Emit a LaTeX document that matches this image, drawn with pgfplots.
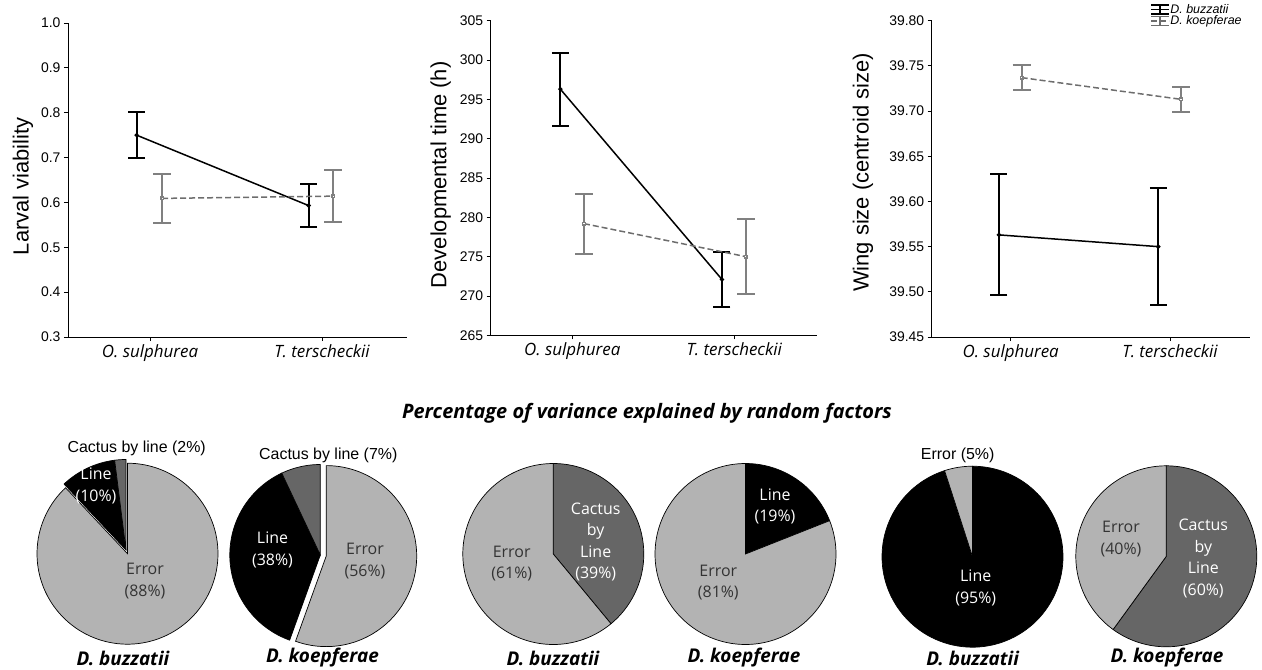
\documentclass[border=0pt]{standalone}
\usepackage{pgfplots}
\pgfplotsset{compat=1.18}
\usepgfplotslibrary{polar}
\usepackage{fontspec}
\setmainfont{Liberation Sans}
\newfontfamily\myriad{Open Sans}

\definecolor{cerr}{HTML}{B3B3B3}
\definecolor{ccbl}{HTML}{666666}
\definecolor{kgray}{HTML}{808080}
\definecolor{ktext}{HTML}{333333}

\pgfplotsset{
  lineplot/.style={
    scale only axis, clip=false,
    axis lines*=left, axis line style={-, line width=1bp},
    tick align=outside, major tick length=4bp,
    tick style={black, line width=0.8bp},
    xtick={1,2}, xticklabels={O. sulphurea, T. terscheckii},
    xticklabel style={font=\myriad\itshape\fontsize{17}{17}\selectfont},
    yticklabel style={font=\fontsize{14}{14}\selectfont},
    /pgf/number format/assume math mode=true,
  },
  buzz/.style={black, line width=1.5bp, mark=*, mark size=1.4bp,
    error bars/.cd, y dir=both, y explicit,
    error bar style={solid, line width=2bp, black},
    error mark options={solid, rotate=90, mark size=8.5bp, line width=2bp, black}},
  koep/.style={kgray!85!black, line width=1.5bp, dash pattern=on 6bp off 3bp,
    mark=square*, mark size=1.3bp, mark options={solid, fill=white, draw=kgray},
    error bars/.cd, y dir=both, y explicit,
    error bar style={solid, line width=2bp, kgray},
    error mark options={solid, rotate=90, mark size=9bp, line width=2bp, kgray}},
  pie/.style={hide axis, scale only axis, width=181bp, height=181bp,
    xmin=0, xmax=360, ymin=0, ymax=1, anchor=center, clip=false, samples=120},
}

% one pie slice, from cumulative percentage #1 to #2, clockwise from 12 o'clock
\newcommand\slice[3]{%
  \pgfmathsetmacro\sa{90-3.6*(#2)}%
  \pgfmathsetmacro\sb{90-3.6*(#1)}%
  \edef\doslice{\noexpand\addplot[fill=#3, draw=black, line width=0.7bp, domain=\sa:\sb]}%
  \doslice {1} -- (axis cs:0,0) -- cycle;}

\tikzset{
  plab/.style={font=\myriad\fontsize{16}{21.5}\selectfont, align=center, inner sep=0pt},
  alab/.style={font=\fontsize{16}{16}\selectfont, inner sep=0pt},
  slab/.style={font=\myriad\bfseries\itshape\fontsize{19}{19}\selectfont, inner sep=0pt},
}

\begin{document}
\begin{tikzpicture}
\path[use as bounding box] (0,0) rectangle (1262bp,-670bp);

% ---------- larval viability
\begin{axis}[lineplot, at={(68bp,-337bp)}, anchor=south west,
  width=339bp, height=314bp,
  xmin=0.523, xmax=2.494, ymin=0.3, ymax=1.0,
  ytick={0.3,0.4,0.5,0.6,0.7,0.8,0.9,1.0},
  yticklabel style={/pgf/number format/.cd, fixed, fixed zerofill, precision=1},
  ylabel={Larval viability},
  every axis y label/.style={at={(axis description cs:-0.133,0.48)}, rotate=90, anchor=center, font=\fontsize{22}{22}\selectfont}]
\addplot[buzz] coordinates {(0.922,0.750) +- (0,0.051) (1.922,0.593) +- (0,0.048)};
\addplot[koep] coordinates {(1.070,0.609) +- (0,0.054) (2.065,0.614) +- (0,0.058)};
\end{axis}

% ---------- developmental time
\begin{axis}[lineplot, at={(490.7bp,-335.3bp)}, anchor=south west,
  width=326bp, height=314.6bp,
  xmin=0.496, xmax=2.509, ymin=265, ymax=305,
  ytick={265,270,275,280,285,290,295,300,305},
  ylabel={Developmental time (h)},
  every axis y label/.style={at={(axis description cs:-0.153,0.51)}, rotate=90, anchor=center, font=\fontsize{22}{22}\selectfont}]
\addplot[buzz] coordinates {(0.926,296.3) +- (0,4.65) (1.924,272.1) +- (0,3.5)};
\addplot[koep] coordinates {(1.072,279.2) +- (0,3.8) (2.072,275.0) +- (0,4.8)};
\end{axis}

% ---------- wing size
\begin{axis}[lineplot, at={(931.7bp,-337bp)}, anchor=south west,
  width=318.3bp, height=316.3bp,
  xmin=0.504, xmax=2.502, ymin=39.45, ymax=39.80,
  ytick={39.45,39.50,39.55,39.60,39.65,39.70,39.75,39.80},
  yticklabel style={/pgf/number format/.cd, fixed, fixed zerofill, precision=2},
  ylabel={Wing size (centroid size)},
  every axis y label/.style={at={(axis description cs:-0.216,0.52)}, rotate=90, anchor=center, font=\fontsize{22}{22}\selectfont},
  legend style={at={(axis description cs:0.686,1.055)}, anchor=north west, draw=none, fill=none,
    font=\itshape\fontsize{12.5}{12.5}\selectfont, inner sep=0pt, row sep=0pt,
    nodes={inner sep=0.6bp}},
  legend cell align=left,
  legend image code/.code={
    \draw[solid, line width=1.5bp] (0bp,4.5bp)--(18bp,4.5bp) (0bp,-4.5bp)--(18bp,-4.5bp) (9bp,-4.5bp)--(9bp,4.5bp);
    \draw (0bp,0bp)--(18bp,0bp);}]
\addplot[buzz] coordinates {(0.926,39.563) +- (0,0.067) (1.926,39.550) +- (0,0.065)};
\addlegendentry{D. buzzatii}
\addplot[koep] coordinates {(1.069,39.737) +- (0,0.0135) (2.069,39.713) +- (0,0.0135)};
\addlegendentry{D. koepferae}
\end{axis}

% ---------- pies: larval viability
\begin{polaraxis}[pie, at={(127.5bp,-553.7bp)}]
\slice{0}{88}{cerr}
\end{polaraxis}
\begin{polaraxis}[pie, at={(126bp,-550bp)}]
\slice{88}{98}{black}
\slice{98}{100}{ccbl}
\end{polaraxis}
\begin{polaraxis}[pie, at={(320.3bp,-555bp)}]
\slice{55.5}{93}{black}
\slice{93}{100}{ccbl}
\end{polaraxis}
\begin{polaraxis}[pie, at={(326.2bp,-556.1bp)}]
\slice{0}{55.5}{cerr}
\end{polaraxis}

% ---------- pies: developmental time
\begin{polaraxis}[pie, at={(553.3bp,-554bp)}]
\slice{0}{39}{ccbl}
\slice{39}{100}{cerr}
\end{polaraxis}
\begin{polaraxis}[pie, at={(745.5bp,-554bp)}]
\slice{0}{19}{black}
\slice{19}{100}{cerr}
\end{polaraxis}

% ---------- pies: wing size
\begin{polaraxis}[pie, at={(972.5bp,-556.7bp)}]
\slice{0}{95}{black}
\slice{95}{100}{cerr}
\end{polaraxis}
\begin{polaraxis}[pie, at={(1166.3bp,-556.3bp)}]
\slice{0}{60}{ccbl}
\slice{60}{100}{cerr}
\end{polaraxis}

% ---------- texts
\node[font=\myriad\bfseries\itshape\fontsize{20}{20}\selectfont, inner sep=0pt] at (647bp,-413bp)
  {Percentage of variance explained by random factors};

\node[plab, white] at (96bp,-486bp) {Line\\(10\%)};
\node[plab, ktext] at (145bp,-581bp) {Error\\(88\%)};
\node[alab] at (136.7bp,-448.3bp) {Cactus by line (2\%)};

\node[plab, white] at (272.5bp,-550bp) {Line\\(38\%)};
\node[plab, ktext] at (365bp,-561bp) {Error\\(56\%)};
\node[alab] at (328.3bp,-455bp) {Cactus by line (7\%)};

\node[plab, ktext] at (511.7bp,-563.5bp) {Error\\(61\%)};
\node[plab, white] at (595.7bp,-542bp) {Cactus\\by\\Line\\(39\%)};

\node[plab, white] at (775bp,-506.3bp) {Line\\(19\%)};
\node[plab, ktext] at (718.3bp,-582.3bp) {Error\\(81\%)};

\node[plab, white] at (975.7bp,-588bp) {Line\\(95\%)};
\node[alab] at (957.7bp,-455bp) {Error (5\%)};

\node[plab, ktext] at (1121bp,-539bp) {Error\\(40\%)};
\node[plab, white] at (1203.3bp,-558.4bp) {Cactus\\by\\Line\\(60\%)};

\node[slab] at (123bp,-658bp) {D. buzzatii};
\node[slab] at (322.5bp,-658bp) {D. koepferae};
\node[slab] at (553bp,-658bp) {D. buzzatii};
\node[slab] at (744bp,-658bp) {D. koepferae};
\node[slab] at (972.7bp,-658bp) {D. buzzatii};
\node[slab] at (1167bp,-658bp) {D. koepferae};
\end{tikzpicture}
\end{document}
